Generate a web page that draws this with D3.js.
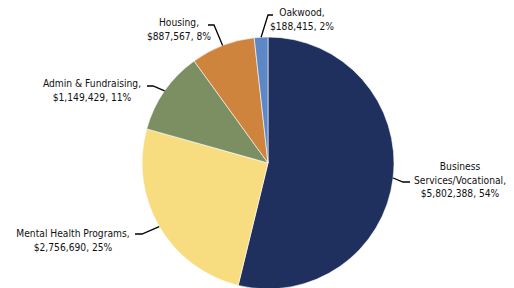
<!DOCTYPE html>
<html>
<head>
<meta charset="utf-8">
<script src="https://cdn.jsdelivr.net/npm/d3@7"></script>
<style>
  body { margin: 0; background: #fff; }
  text { font-family: "DejaVu Sans Condensed", "DejaVu Sans", sans-serif; font-size: 10.2px; fill: #111; }
</style>
</head>
<body>
<script>
// chart data
var categories = ["Business Services/Vocational", "Mental Health Programs", "Admin & Fundraising", "Housing", "Oakwood"];
var amounts = [5802388, 2756690, 1149429, 887567, 188415];
var percents = ["54%", "25%", "11%", "8%", "2%"];
var colors = ["#1f305e", "#f7dd7f", "#7b8f63", "#cf843e", "#5e87c5"];

// label layout: text lines, text centre, elbow of the leader line, end of the leader line
var labelLines = [
    ["Business", "Services/Vocational,"],
    ["Mental Health Programs,"],
    ["Admin & Fundraising,"],
    ["Housing,"],
    ["Oakwood,"]
];
var labelPos = [[460, 166], [73, 233], [92, 83], [179, 22], [302, 12]];
var leaderElbow = [[403, 182], [142, 234], [153, 86], [214, 25], [268, 15]];
var leaderEnd = [[410, 182], [135, 234], [147, 86], [208, 25], [273, 15]];

window.onload = function() {
    var w = 514, h = 288;
    var cx = 268, cy = 163, r = 126;

    var svg = d3.select("body").append("svg")
        .attr("width", w)
        .attr("height", h);

    var data = categories.map(function(c, i) {
        return { name: c, value: amounts[i], i: i };
    });

    var pie = d3.pie().sort(null).value(function(d) { return d.value; });
    var arc = d3.arc().innerRadius(0).outerRadius(r);
    var arcs = pie(data);

    var g = svg.append("g").attr("transform", "translate(" + cx + "," + cy + ")");

    g.selectAll(".slice")
        .data(arcs)
        .enter()
        .append("path")
        .attr("class", "slice")
        .attr("d", arc)
        .style("fill", function(d) { return colors[d.data.i]; })
        .style("stroke", "#fff")
        .style("stroke-width", 0.6);

    // leader lines from slice edge at mid angle
    svg.selectAll(".leader")
        .data(arcs)
        .enter()
        .append("polyline")
        .attr("class", "leader")
        .attr("points", function(d) {
            var a = (d.startAngle + d.endAngle) / 2;
            var p0 = [cx + r * Math.sin(a), cy - r * Math.cos(a)];
            var i = d.data.i;
            return [p0, leaderElbow[i], leaderEnd[i]].map(function(p) { return p.join(","); }).join(" ");
        })
        .style("fill", "none")
        .style("stroke", "#000")
        .style("stroke-width", 1.3);

    var fmt = d3.format("$,");
    var labels = svg.selectAll(".lbl")
        .data(arcs)
        .enter()
        .append("text")
        .attr("class", "lbl")
        .attr("text-anchor", "middle")
        .attr("dominant-baseline", "central");

    labels.each(function(d) {
        var i = d.data.i;
        var t = d3.select(this);
        var lines = labelLines[i].concat([fmt(amounts[i]) + ", " + percents[i]]);
        lines.forEach(function(s, k) {
            t.append("tspan")
                .attr("x", labelPos[i][0])
                .attr("y", labelPos[i][1] + k * 13.5)
                .text(s);
        });
    });
};
</script>
</body>
</html>
